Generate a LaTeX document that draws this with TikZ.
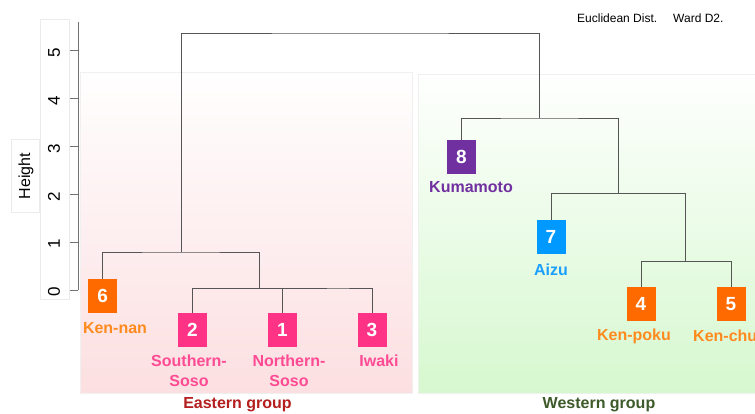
\documentclass[tikz,border=0pt]{standalone}
\usepackage{fontspec}
\setmainfont{Liberation Sans}
\definecolor{cOrange}{HTML}{FF6A00}
\definecolor{tOrange}{HTML}{FF8A1E}
\definecolor{cPink}{HTML}{FF3385}
\definecolor{tPink}{HTML}{FF4A94}
\definecolor{cPurple}{HTML}{7030A0}
\definecolor{cBlue}{HTML}{0099FF}
\definecolor{tBlue}{HTML}{1A9FFF}
\definecolor{eastRed}{HTML}{B41E1E}
\definecolor{westGreen}{HTML}{3D5A2A}
\definecolor{eastBot}{HTML}{FCDFE1}
\definecolor{westBot}{HTML}{D6F8CF}
\definecolor{dend}{HTML}{555555}
\tikzset{
  leafbox/.style={minimum width=29pt, minimum height=34pt, inner sep=0pt, text=white, font=\fontsize{19}{22}\selectfont\bfseries},
  leaflabel/.style={inner sep=0pt, align=center, font=\fontsize{16}{20}\selectfont\bfseries},
  dendline/.style={draw=dend, line width=0.9pt},
  axisline/.style={draw=black!55, line width=1pt},
  ticklabel/.style={rotate=90, inner sep=0pt, font=\fontsize{17}{20}\selectfont},
}
\begin{document}
\begin{tikzpicture}[x=1pt, y=-1pt]
\clip (0,0) rectangle (755,414);
\fill[white] (0,0) rectangle (755,414);
% group backgrounds
\shade[top color=white!98!eastBot, bottom color=eastBot] (80,72) rectangle (412,393);
\draw[black!6, line width=0.5pt] (80,72) rectangle (412,393);
\shade[top color=white!98!westBot, bottom color=westBot] (418,74) rectangle (755,393);
\draw[black!6, line width=0.5pt] (418,74) rectangle (755,393);
% axis panels
\draw[black!8, fill=white, line width=0.5pt] (40,19) rectangle (69,299);
\draw[black!8, fill=white, line width=0.5pt] (11,139) rectangle (39,212);
\node[rotate=90, inner sep=0pt, font=\fontsize{16}{19}\selectfont] (ylab) at (26,176) {Height};
% axis
\coordinate (axtop) at (78,22);
\coordinate (axbot) at (78,290);
\draw[axisline] (axtop) -- (axbot);
\foreach \k in {0,...,5} {
  \coordinate (tk\k) at (78,{290-47.8*\k});
  \draw[axisline] (tk\k) -- ++(-8,0);
  \node[ticklabel] (tl\k) at (54,{292-47.8*\k}) {\k};
}
% header
\node[inner sep=0pt, anchor=west, font=\fontsize{12}{14}\selectfont] (dist) at (577,18) {Euclidean Dist.};
\node[inner sep=0pt, anchor=west, font=\fontsize{12}{14}\selectfont] (ward) at (673,18) {Ward D2.};
% merge points
\coordinate (mRoot) at (360,33);
\coordinate (mE) at (181,252);
\coordinate (mE2) at (259.5,288.5);
\coordinate (m13) at (326.5,288);
\coordinate (mW) at (539.5,118);
\coordinate (mW2) at (618,193.5);
\coordinate (mW3) at (685.5,261.5);
% leaf boxes
\node[leafbox, fill=cOrange] (b6) at (102.7,296) {6};
\node[leafbox, fill=cPink] (b2) at (192.5,330) {2};
\node[leafbox, fill=cPink] (b1) at (282.5,330) {1};
\node[leafbox, fill=cPink] (b3) at (372,330) {3};
\node[leafbox, fill=cPurple] (b8) at (461.5,157) {8};
\node[leafbox, fill=cBlue] (b7) at (551,237) {7};
\node[leafbox, fill=cOrange] (b4) at (641,304) {4};
\node[leafbox, fill=cOrange] (b5) at (731,304) {5};
% labels
\node[leaflabel, text=tOrange] (l6) at (115,328) {Ken-nan};
\node[leaflabel, text=tPink] (l2) at (189,371) {Southern-\\Soso};
\node[leaflabel, text=tPink] (l1) at (289,371) {Northern-\\Soso};
\node[leaflabel, text=tPink] (l3) at (379,361) {Iwaki};
\node[leaflabel, text=cPurple] (l8) at (471,187) {Kumamoto};
\node[leaflabel, text=tBlue] (l7) at (551,270) {Aizu};
\node[leaflabel, text=tOrange] (l4) at (634,336) {Ken-poku};
\node[leaflabel, text=tOrange, anchor=west] (l5) at (693,336) {Ken-chu};
% group labels
\node[inner sep=0pt, text=eastRed, font=\fontsize{16}{19}\selectfont\bfseries] (east) at (237.5,405) {Eastern group};
\node[inner sep=0pt, text=westGreen, font=\fontsize{16}{19}\selectfont\bfseries] (west) at (599,405) {Western group};
% dendrogram
\draw[dendline] (mE) |- (mRoot) -| (mW);
\draw[dendline] (b6.north) |- (mE) -| (mE2);
\draw[dendline] (b2.north) |- (mE2) -| (m13);
\draw[dendline] (b1.north) |- (m13) -| (b3.north);
\draw[dendline] (b8.north) |- (mW) -| (mW2);
\draw[dendline] (b7.north) |- (mW2) -| (mW3);
\draw[dendline] (b4.north) |- (mW3) -| (b5.north);
\end{tikzpicture}
\end{document}
